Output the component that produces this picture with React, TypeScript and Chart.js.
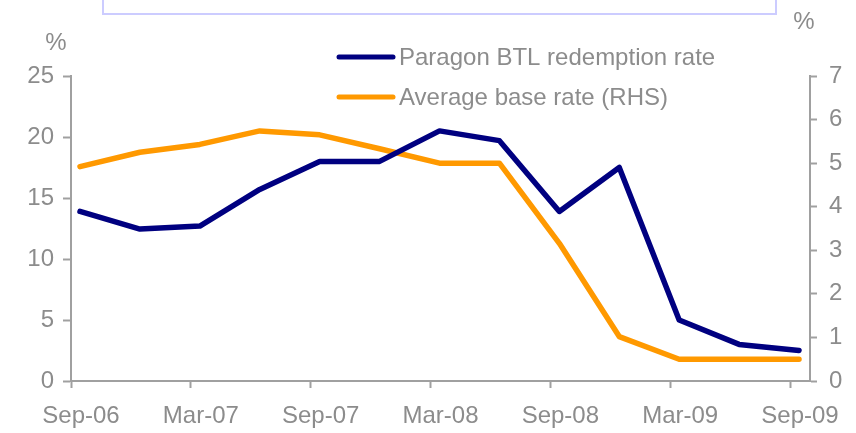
import { useEffect, useRef } from 'react';
import { Chart, registerables } from 'chart.js';

Chart.register(...registerables);

const quarterLabels = ['Sep-06', 'Dec-06', 'Mar-07', 'Jun-07', 'Sep-07', 'Dec-07', 'Mar-08', 'Jun-08', 'Sep-08', 'Dec-08', 'Mar-09', 'Jun-09', 'Sep-09'];
const redemptionRate = [13.9, 12.45, 12.7, 15.7, 18.0, 18.0, 20.5, 19.7, 13.9, 17.5, 5.0, 3.0, 2.5];
const baseRate = [4.92, 5.25, 5.43, 5.74, 5.65, 5.33, 5.0, 5.0, 3.16, 1.02, 0.5, 0.5, 0.5];
const xTickLabels = ['Sep-06', 'Mar-07', 'Sep-07', 'Mar-08', 'Sep-08', 'Mar-09', 'Sep-09'];
const seriesNames = ['Paragon BTL redemption rate', 'Average base rate (RHS)'];
const seriesColors = ['#000080', '#FF9900'];

const FONT = '"Liberation Sans", Arial, sans-serif';
const TEXT = '#8c8c8c';
const AXIS = '#a0a0a0';

const overlay = {
  id: 'overlay',
  afterDraw(chart: any) {
    const ctx = chart.ctx;
    ctx.save();
    // top box
    ctx.strokeStyle = '#ccccff';
    ctx.lineWidth = 2;
    ctx.strokeRect(103, -10, 673, 24);
    // % labels
    ctx.fillStyle = TEXT;
    ctx.font = '24px ' + FONT;
    ctx.textAlign = 'center';
    ctx.textBaseline = 'middle';
    ctx.fillText('%', 56, 43);
    ctx.fillText('%', 804, 22);
    // legend
    ctx.textAlign = 'left';
    const ys = [57, 97];
    seriesNames.forEach((name, i) => {
      ctx.strokeStyle = seriesColors[i];
      ctx.lineWidth = 5;
      ctx.lineCap = 'round';
      ctx.beginPath();
      ctx.moveTo(339, ys[i]);
      ctx.lineTo(393, ys[i]);
      ctx.stroke();
      ctx.fillText(name, 399, ys[i] + 1);
    });
    ctx.restore();
  },
};

export default function App() {
  const ref = useRef<HTMLCanvasElement>(null);
  useEffect(() => {
    document.body.style.margin = '0';
    const tickFont = { family: FONT, size: 24 };
    const chart = new Chart(ref.current!, {
      type: 'line',
      data: {
        datasets: [
          {
            label: seriesNames[0],
            data: quarterLabels.map((_, i) => ({ x: 3 * i + 0.45, y: redemptionRate[i] })),
            borderColor: seriesColors[0],
            borderWidth: 5.5,
            pointRadius: 0,
            yAxisID: 'y',
            borderJoinStyle: 'round',
            borderCapStyle: 'round',
          },
          {
            label: seriesNames[1],
            data: quarterLabels.map((_, i) => ({ x: 3 * i + 0.45, y: baseRate[i] })),
            borderColor: seriesColors[1],
            borderWidth: 5.5,
            pointRadius: 0,
            yAxisID: 'y1',
            borderJoinStyle: 'round',
            borderCapStyle: 'round',
          },
        ],
      },
      options: {
        responsive: false,
        animation: false,
        layout: { padding: { top: 76, left: 0, right: 0, bottom: 0 } },
        plugins: { legend: { display: false }, tooltip: { enabled: false } },
        scales: {
          x: {
            type: 'linear',
            min: 0,
            max: 37,
            afterFit: (s: any) => { s.height = 52; },
            afterBuildTicks: (s: any) => { s.ticks = xTickLabels.map((_, i) => ({ value: i * 6 })); },
            ticks: {
              callback: (v: any) => xTickLabels[Math.round(Number(v) / 6)],
              labelOffset: 10,
              padding: 14,
              font: tickFont,
              color: TEXT,
              maxRotation: 0,
              autoSkip: false,
            },
            grid: { drawOnChartArea: false, tickLength: 7, tickColor: AXIS, tickWidth: 2 },
            border: { color: AXIS, width: 2 },
          },
          y: {
            position: 'left',
            min: 0,
            max: 25,
            afterFit: (s: any) => { s.width = 71; },
            ticks: { stepSize: 5, padding: 9, font: tickFont, color: TEXT },
            grid: { drawOnChartArea: false, tickLength: 8, tickColor: AXIS, tickWidth: 2 },
            border: { color: AXIS, width: 2 },
          },
          y1: {
            position: 'right',
            min: 0,
            max: 7,
            afterFit: (s: any) => { s.width = 46; },
            ticks: { stepSize: 1, padding: 12, font: tickFont, color: TEXT },
            grid: { drawOnChartArea: false, tickLength: 7, tickColor: AXIS, tickWidth: 2 },
            border: { color: AXIS, width: 2 },
          },
        },
      },
      plugins: [overlay],
    } as any);
    return () => chart.destroy();
  }, []);
  return <canvas ref={ref} width={856} height={433} style={{ display: 'block' }} />;
}
